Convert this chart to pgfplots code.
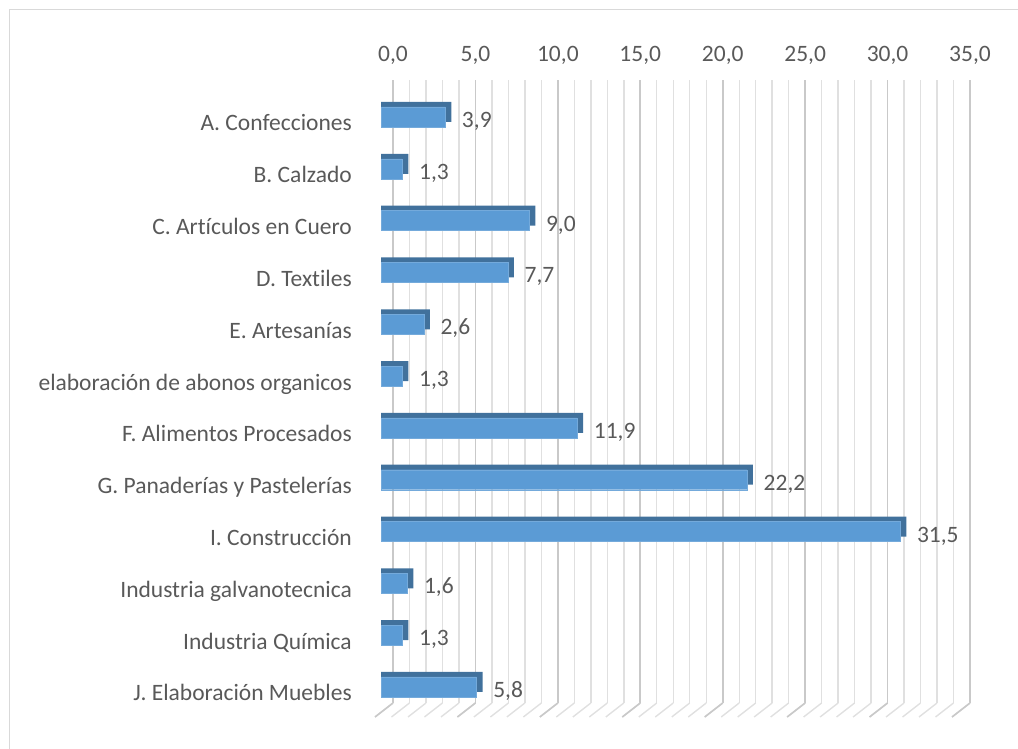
\documentclass[border=0pt]{standalone}
\usepackage{pgfplots}
\pgfplotsset{compat=1.18}
\usepackage{fontspec}
\setmainfont{Carlito}[Ligatures=NoCommon]
\definecolor{frontc}{HTML}{5B9BD5}
\definecolor{backc}{HTML}{41719C}
\definecolor{txt}{HTML}{595959}
\definecolor{gridmaj}{HTML}{C9C9C9}
\definecolor{gridmin}{HTML}{E0E0E0}
\definecolor{bord}{HTML}{D9D9D9}
\newcommand{\lblfont}{\fontsize{23.5}{28}\selectfont}
\begin{document}
\begin{tikzpicture}[x=1pt,y=1pt]
\path[use as bounding box] (0,0) rectangle (1018,749);
\draw[bord, line width=1.5pt] (9.5,0) -- (9.5,739.5) -- (1018,739.5);
% back wall: grid and ticks
\begin{axis}[
  at={(393pt,46pt)}, anchor=south west,
  scale only axis, width=577pt, height=623pt,
  xmin=0, xmax=35, ymin=0, ymax=1,
  axis line style={draw=none},
  xtick={0,5,...,35}, minor x tick num=4,
  ytick=\empty,
  xticklabel pos=upper,
  major tick length=0pt, minor tick length=0pt,
  grid=both,
  major grid style={gridmaj, line width=1.6pt},
  minor grid style={gridmin, line width=1.4pt},
  /pgf/number format/.cd, use comma, fixed, fixed zerofill, precision=1, assume math mode=true,
  /pgfplots/.cd,
  xticklabel style={font=\lblfont, text=txt, inner sep=0pt, anchor=base},
  xticklabel shift=18pt,
  clip=false,
]
\pgfplotsinvokeforeach{0,...,35}{
  \draw[gridmin, line width=1.4pt] (axis cs:#1,0) -- ++(-18pt,-14pt);
}
\pgfplotsinvokeforeach{0,5,...,35}{
  \draw[gridmaj, line width=1.6pt] (axis cs:#1,0) -- ++(-18pt,-14pt);
}
\end{axis}
% front: bars
\begin{axis}[
  at={(381pt,36.1pt)}, anchor=south west,
  scale only axis, width=577pt, height=621.8pt,
  xmin=0, xmax=35, ymin=0.5, ymax=12.5,
  axis line style={draw=none},
  xtick=\empty,
  ytick={1,...,12},
  yticklabels={J. Elaboración Muebles, Industria Química, Industria galvanotecnica, I. Construcción, G. Panaderías y Pastelerías, F. Alimentos Procesados, elaboración de abonos organicos, E. Artesanías, D. Textiles, C. Artículos en Cuero, B. Calzado, A. Confecciones},
  major tick length=0pt,
  yticklabel style={font=\lblfont, text=txt, inner sep=0pt, anchor=base east, yshift=-14pt},
  yticklabel shift=29pt,
  xbar, bar width=20pt,
  clip=false,
  /pgf/number format/.cd, use comma, fixed, fixed zerofill, precision=1, assume math mode=true,
  /pgfplots/.cd,
]
\addplot[draw=none, fill=backc, bar shift=5pt] coordinates {
(4.264,12) (1.664,11) (9.364,10) (8.064,9) (2.964,8) (1.664,7) (12.264,6) (22.564,5) (31.864,4) (1.964,3) (1.664,2) (6.164,1)};
\addplot[draw=frontc!85!white, fill=frontc, bar shift=0pt,
  nodes near coords,
  every node near coord/.append style={font=\lblfont, text=txt, inner sep=0pt, anchor=base west, xshift=16.5pt, yshift=-10.5pt}]
 coordinates {
(3.9,12) (1.3,11) (9.0,10) (7.7,9) (2.6,8) (1.3,7) (11.9,6) (22.2,5) (31.5,4) (1.6,3) (1.3,2) (5.8,1)};
\end{axis}
\end{tikzpicture}
\end{document}
